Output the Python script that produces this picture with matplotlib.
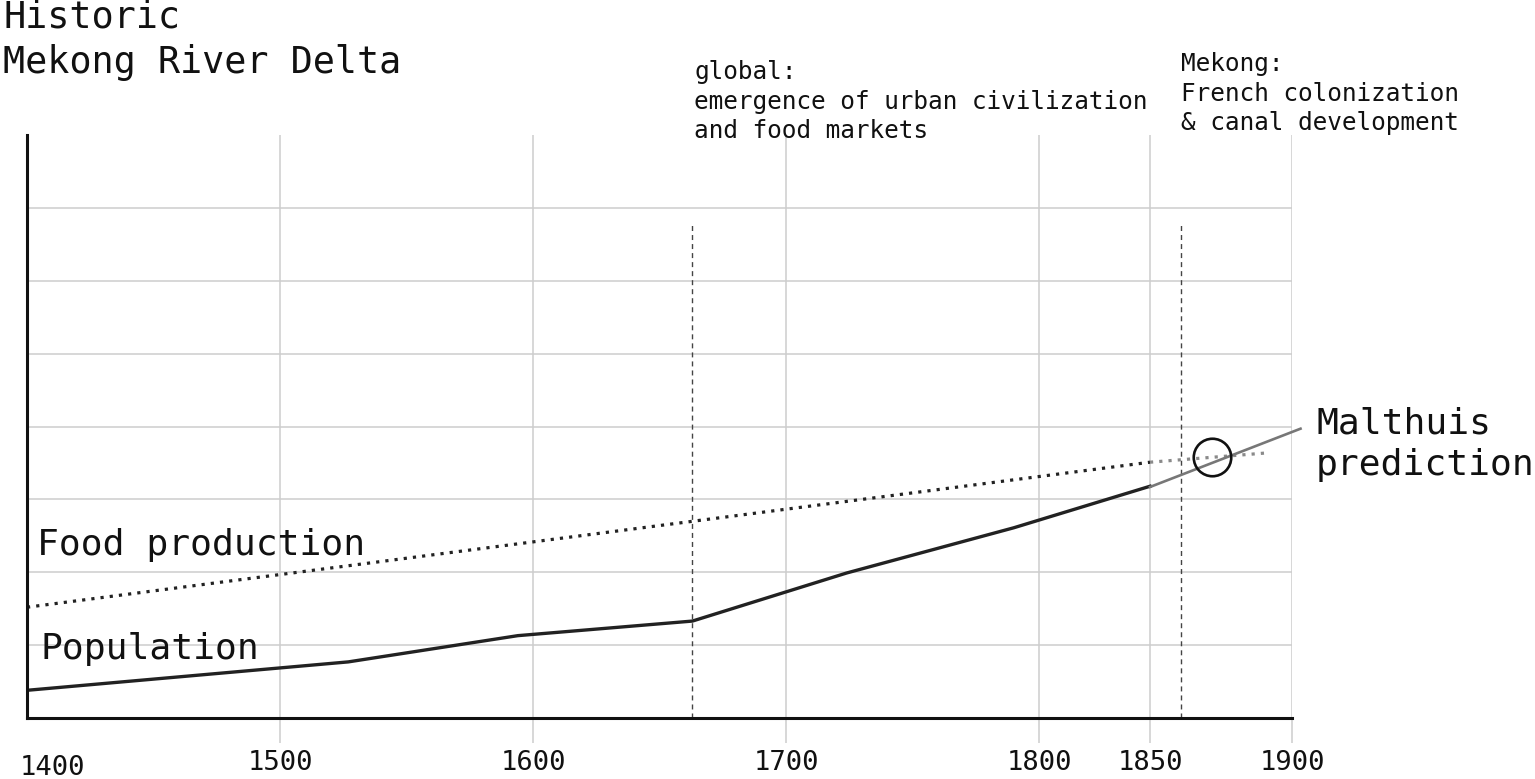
import numpy as np
import matplotlib
matplotlib.use("Agg")
import matplotlib.pyplot as plt
from matplotlib.transforms import ScaledTranslation

# ---- data ----
pop_years = [1400, 1527, 1594, 1663, 1724, 1790, 1850]
pop_vals = [0.38, 0.77, 1.13, 1.33, 1.99, 2.61, 3.18]
food_years = [1400, 1850]
food_vals = [1.52, 3.51]
food_proj_years = [1850, 1892]
food_proj_vals = [3.51, 3.64]
malthus_years = [1850, 1903]
malthus_vals = [3.17, 3.97]
crossing_year = [1872]
crossing_val = [3.58]
event_years = [1663, 1861]
event_top = 6.81
tick_years = [1400, 1500, 1600, 1700, 1800, 1850, 1900]
tick_labels = ["1400", "1500", "1600", "1700", "1800", "1850", "1900"]
grid_levels = [1, 2, 3, 4, 5, 6, 7]

# the year axis of the reference is piecewise (1850 sits left of the midpoint)
scale_years = np.array([1000.0, 1800.0, 1850.0, 2400.0])
scale_pos = np.array([1000.0, 1800.0, 1843.87, 1843.87 + 550 * 1.12261])


def fwd(x):
    return np.interp(x, scale_years, scale_pos)


def inv(p):
    return np.interp(p, scale_pos, scale_years)


plt.rcParams["font.family"] = ["DejaVu Sans Mono", "DejaVu Sans"]

W, H = 1535, 779
fig = plt.figure(figsize=(W / 100, H / 100), dpi=100)
ax = fig.add_axes([27 / W, (H - 718) / H, 1265 / W, 583 / H])
ax.set_xscale("function", functions=(fwd, inv))
ax.set_xlim(1400, 1900)
ax.set_ylim(0, 8)

grid_c = "#cdcdcd"
ax.set_xticks(tick_years)
ax.set_xticklabels(tick_labels)
ax.set_yticks(grid_levels)
ax.set_yticklabels([])
ax.grid(True, color=grid_c, lw=1.1, zorder=0)
ax.set_axisbelow(True)
ax.tick_params(axis="y", length=0)
ax.tick_params(axis="x", length=18, width=1.1, color=grid_c, pad=5,
               labelsize=19.5, labelcolor="#111111")
for s in ("top", "right"):
    ax.spines[s].set_visible(False)
for s in ("left", "bottom"):
    ax.spines[s].set_color("#111111")
    ax.spines[s].set_linewidth(2.2)
    ax.spines[s].set_zorder(5)

# first tick: no tick line, label nudged right/down like the reference
t0 = ax.xaxis.get_major_ticks()[0]
t0.tick1line.set_visible(False)
t0.label1.set_transform(t0.label1.get_transform() +
                        ScaledTranslation(0.25, -0.05, fig.dpi_scale_trans))

# event markers
ax.vlines(event_years, 0, event_top, colors="#444444", lw=1.0,
          linestyles=(0, (3.6, 2.9)), zorder=2)

# series
ax.plot(food_years, food_vals, color="#222222", lw=2.3,
        linestyle=(0, (1, 1.9)), zorder=3)
ax.plot(food_proj_years, food_proj_vals, color="#8a8a8a", lw=2.3,
        linestyle=(0, (1, 1.9)), zorder=3)
ax.plot(pop_years, pop_vals, color="#222222", lw=2.4, zorder=3,
        solid_joinstyle="round")
ax.plot(malthus_years, malthus_vals, color="#777777", lw=1.9, zorder=3,
        clip_on=False)
ax.plot(crossing_year, crossing_val, marker="o", ms=27, mfc="none",
        mec="#111111", mew=1.9, ls="none", zorder=4)


def ftext(x, y_last_baseline, s, size, ls=1.28):
    fig.text(x / W, 1 - y_last_baseline / H, s, fontsize=size, color="#111111",
             ha="left", va="baseline", linespacing=ls)


ftext(3, 73, "Historic\nMekong River Delta", 26.5)
ftext(694, 138, "global:\nemergence of urban civilization\nand food markets", 17.6)
ftext(1181, 130, "Mekong:\nFrench colonization\n& canal development", 17.6)
ftext(1316, 475, "Malthuis\nprediction", 26.2)
ftext(37, 555, "Food production", 26.2)
ftext(41, 659, "Population", 26.2)

fig.savefig("out.png", dpi=100)
